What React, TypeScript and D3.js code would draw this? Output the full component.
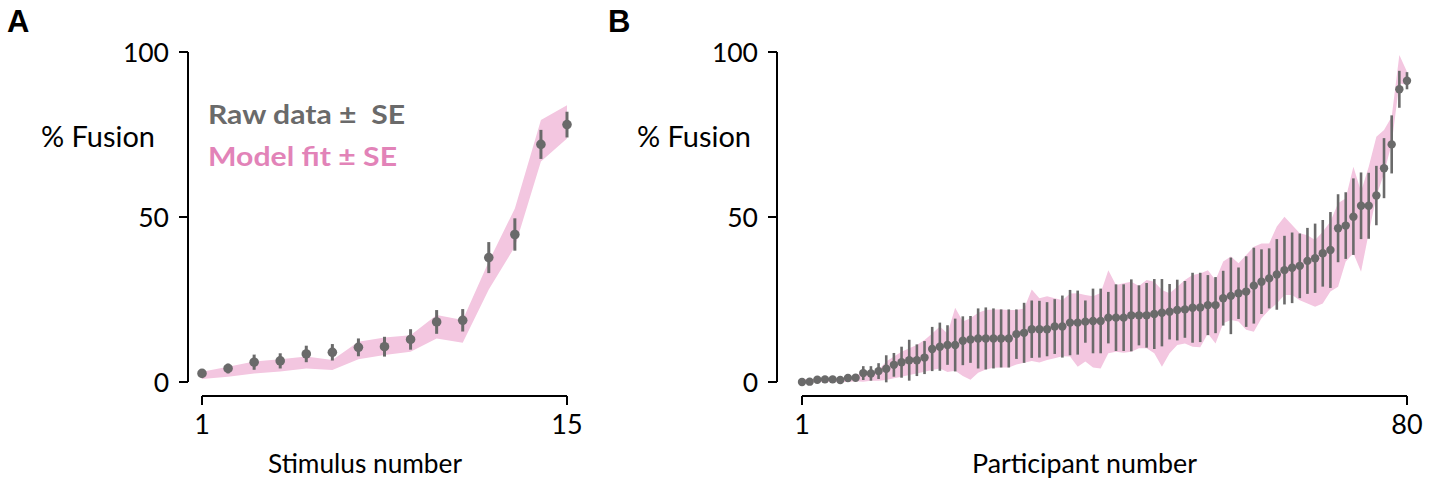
import React from "react";
import * as d3 from "d3";

// ---------- Panel A data (stimulus 1..15) ----------
const stimuli = d3.range(1, 16);
const rawA = [2.6, 4.1, 6.0, 6.4, 8.5, 9.0, 10.5, 10.7, 12.9, 18.2, 18.7, 37.7, 44.7, 72.0, 78.0];
const seA = [0.8, 1.5, 2.3, 2.3, 2.5, 2.5, 2.7, 3.0, 3.1, 3.6, 3.4, 4.7, 4.9, 4.4, 3.9];
const fitLoA = [0.9, 1.6, 2.6, 3.2, 4.1, 3.6, 6.9, 8.2, 9.2, 13.2, 11.9, 28.0, 41.0, 66.8, 73.8];
const fitHiA = [3.1, 4.6, 6.2, 6.9, 7.7, 6.7, 12.2, 13.5, 14.2, 20.3, 18.8, 36.5, 52.6, 79.4, 83.9];

// ---------- Panel B data (participant 1..80) ----------
const participants = d3.range(1, 81);
const rawB = [
  0.0, 0.1, 0.7, 0.8, 0.8, 0.6, 1.2, 1.3,
  2.7, 2.6, 3.3, 4.0, 5.2, 6.0, 6.6, 6.6, 7.4, 10.0, 10.7, 11.2,
  11.2, 12.5, 12.9, 13.2, 13.2, 13.2, 13.2, 13.2, 14.5, 14.9, 16.0, 16.0, 16.0, 16.8, 16.8, 18.0, 18.0, 18.3, 18.5, 18.5,
  19.5, 19.5, 19.5, 20.2, 20.2, 20.2, 20.6, 21.0, 21.3, 21.8, 22.0, 22.5, 22.6, 23.3, 23.3, 25.4, 26.1, 26.9, 27.4, 29.2,
  30.4, 31.4, 32.6, 33.9, 34.6, 35.2, 36.7, 37.5, 39.0, 40.0, 46.6, 47.4, 50.1, 53.4, 53.4, 56.5, 64.8, 72.0, 88.7, 91.3,
];
const seB = [
  0.5, 0.5, 0.5, 0.5, 0.5, 0.5, 0.5, 0.6,
  2.1, 2.2, 2.4, 4.1, 3.6, 4.7, 6.2, 4.8, 5.0, 6.7, 7.3, 6.0,
  8.0, 7.4, 7.1, 9.1, 9.4, 9.1, 8.8, 8.8, 7.5, 9.1, 8.7, 8.6, 8.2, 8.3, 9.4, 9.9, 9.7, 6.4, 9.8, 9.8,
  7.8, 10.1, 10.1, 10.9, 9.1, 9.8, 10.6, 10.2, 8.4, 9.2, 8.6, 10.6, 10.5, 9.1, 8.5, 8.3, 11.6, 7.8, 10.7, 11.5,
  9.8, 9.1, 10.7, 10.4, 10.7, 9.8, 10.0, 10.5, 10.1, 11.5, 10.3, 10.1, 11.6, 10.1, 10.0, 9.0, 9.1, 8.8, 5.6, 2.6,
];
const fitHiB = [
  0.8, 0.8, 1.0, 1.2, 1.2, 1.2, 1.5, 1.8,
  3.1, 3.1, 3.6, 6.2, 7.7, 9.2, 10.2, 11.2, 12.7, 14.7, 16.8, 14.7,
  22.5, 18.3, 19.3, 21.0, 21.8, 22.0, 22.0, 21.8, 21.8, 22.3, 28.0, 25.4, 26.0, 25.4, 24.8, 26.8, 26.9, 26.4, 26.0, 27.0,
  33.9, 29.4, 29.9, 30.4, 29.1, 30.9, 30.4, 27.9, 26.9, 28.9, 30.9, 32.4, 32.9, 33.9, 30.9, 36.5, 38.0, 36.0, 38.5, 41.0,
  42.0, 42.0, 47.1, 50.1, 47.6, 45.1, 44.5, 43.0, 45.5, 48.6, 54.2, 55.7, 65.2, 57.7, 65.2, 74.3, 76.4, 80.4, 99.1, 94.0,
];
const fitLoB = [
  0.0, 0.0, 0.0, 0.0, 0.0, 0.0, 0.0, 0.2,
  0.1, 0.4, 0.4, 0.6, 1.1, 1.6, 2.1, 2.6, 3.1, 3.6, 4.1, 3.0,
  3.4, 1.8, 0.7, 2.8, 3.8, 4.3, 4.4, 4.4, 5.3, 5.8, 6.4, 5.9, 6.7, 7.2, 7.8, 7.7, 4.6, 6.2, 4.4, 4.1,
  8.7, 9.2, 8.9, 9.2, 10.2, 10.2, 8.7, 4.6, 8.7, 11.2, 11.7, 10.7, 10.5, 14.7, 11.7, 17.8, 18.8, 18.3, 15.8, 15.2,
  19.3, 21.8, 23.8, 26.4, 26.4, 24.8, 23.8, 22.8, 23.8, 27.4, 28.9, 36.5, 39.0, 33.4, 45.1, 56.2, 63.2, 72.3, 90.5, 90.0,
];

const yTicks = [0, 50, 100];
const xTicksA = [1, 15];
const xTicksB = [1, 80];

const GRAY = "#6a6a6a";
const BAND = "#f3c6e0";
const PINK = "#e283b8";
const FONT = "Lato, 'Open Sans', sans-serif";

type PanelProps = {
  xs: number[];
  raw: number[];
  se: number[];
  lo: number[];
  hi: number[];
  xDomain: [number, number];
  xRange: [number, number];
  yAxisX: number;
  xTicks: number[];
  xTitle: string;
  xTitleX: number;
  xTitleW: number;
  yTitleX: number;
  r: number;
  barW: number;
};

function Panel(p: PanelProps) {
  const x = d3.scaleLinear().domain(p.xDomain).range(p.xRange);
  const y = d3.scaleLinear().domain([0, 100]).range([382, 52]);
  const xAxisY = 396;
  const area = d3
    .area<number>()
    .x((_, i) => x(p.xs[i]))
    .y0((_, i) => y(p.lo[i]))
    .y1((_, i) => y(p.hi[i]));
  return (
    <g>
      <path d={area(p.xs) || ""} fill={BAND} />
      {p.xs.map((v, i) => (
        <line
          key={"e" + i}
          x1={x(v)}
          x2={x(v)}
          y1={y(p.raw[i] - p.se[i])}
          y2={y(p.raw[i] + p.se[i])}
          stroke={GRAY}
          strokeWidth={p.barW}
        />
      ))}
      {p.xs.map((v, i) => (
        <circle key={"c" + i} cx={x(v)} cy={y(p.raw[i])} r={p.r} fill={GRAY} />
      ))}
      {/* y axis */}
      <line x1={p.yAxisX} x2={p.yAxisX} y1={y(100)} y2={y(0)} stroke="#000" strokeWidth={2} />
      {yTicks.map((t) => (
        <g key={"yt" + t}>
          <line x1={p.yAxisX - 9} x2={p.yAxisX} y1={y(t)} y2={y(t)} stroke="#000" strokeWidth={2} />
          <text x={p.yAxisX - 19} y={y(t) + 9.5} textAnchor="end" fontSize={26.5} fontFamily={FONT} fill="#000">
            {t}
          </text>
        </g>
      ))}
      {/* x axis */}
      <line x1={x(p.xDomain[0])} x2={x(p.xDomain[1])} y1={xAxisY} y2={xAxisY} stroke="#000" strokeWidth={2} />
      {p.xTicks.map((t) => (
        <g key={"xt" + t}>
          <line x1={x(t)} x2={x(t)} y1={xAxisY} y2={xAxisY + 9} stroke="#000" strokeWidth={2} />
          <text x={x(t)} y={434} textAnchor="middle" fontSize={27} fontFamily={FONT} fill="#000">
            {t}
          </text>
        </g>
      ))}
      <text
        x={p.xTitleX}
        y={473}
        fontSize={26.5}
        fontFamily={FONT}
        fill="#000"
        textLength={p.xTitleW}
        lengthAdjust="spacingAndGlyphs"
      >
        {p.xTitle}
      </text>
      <text
        x={p.yTitleX}
        y={147}
        fontSize={28}
        fontFamily={FONT}
        fill="#000"
        textLength={114}
        lengthAdjust="spacingAndGlyphs"
      >
        % Fusion
      </text>
    </g>
  );
}

export default function App() {
  return (
    <svg width={1429} height={481} style={{ position: "absolute", left: 0, top: 0, background: "#fff" }}>
      <rect width={1429} height={481} fill="#fff" />
      <text x={7} y={32} fontSize={31} fontWeight="bold" fontFamily="'Liberation Sans', Arial, sans-serif">
        A
      </text>
      <text x={608} y={32} fontSize={31} fontWeight="bold" fontFamily="'Liberation Sans', Arial, sans-serif">
        B
      </text>
      <Panel
        xs={stimuli}
        raw={rawA}
        se={seA}
        lo={fitLoA}
        hi={fitHiA}
        xDomain={[1, 15]}
        xRange={[202, 567]}
        yAxisX={188}
        xTicks={xTicksA}
        xTitle="Stimulus number"
        xTitleX={268}
        xTitleW={194}
        yTitleX={41}
        r={4.8}
        barW={3}
      />
      <Panel
        xs={participants}
        raw={rawB}
        se={seB}
        lo={fitLoB}
        hi={fitHiB}
        xDomain={[1, 80]}
        xRange={[802, 1407]}
        yAxisX={777}
        xTicks={xTicksB}
        xTitle="Participant number"
        xTitleX={972}
        xTitleW={225}
        yTitleX={637}
        r={4.2}
        barW={2.6}
      />
      <text
        x={208}
        y={124}
        fontSize={26}
        fontWeight="bold"
        fontFamily={FONT}
        fill={GRAY}
        style={{ whiteSpace: "pre" }}
        textLength={197}
        lengthAdjust="spacingAndGlyphs"
      >
        {"Raw data \u00b1  SE"}
      </text>
      <text
        x={208}
        y={166}
        fontSize={26}
        fontWeight="bold"
        fontFamily={FONT}
        fill={PINK}
        style={{ whiteSpace: "pre" }}
        textLength={189}
        lengthAdjust="spacingAndGlyphs"
      >
        {"Model fit \u00b1 SE"}
      </text>
    </svg>
  );
}
